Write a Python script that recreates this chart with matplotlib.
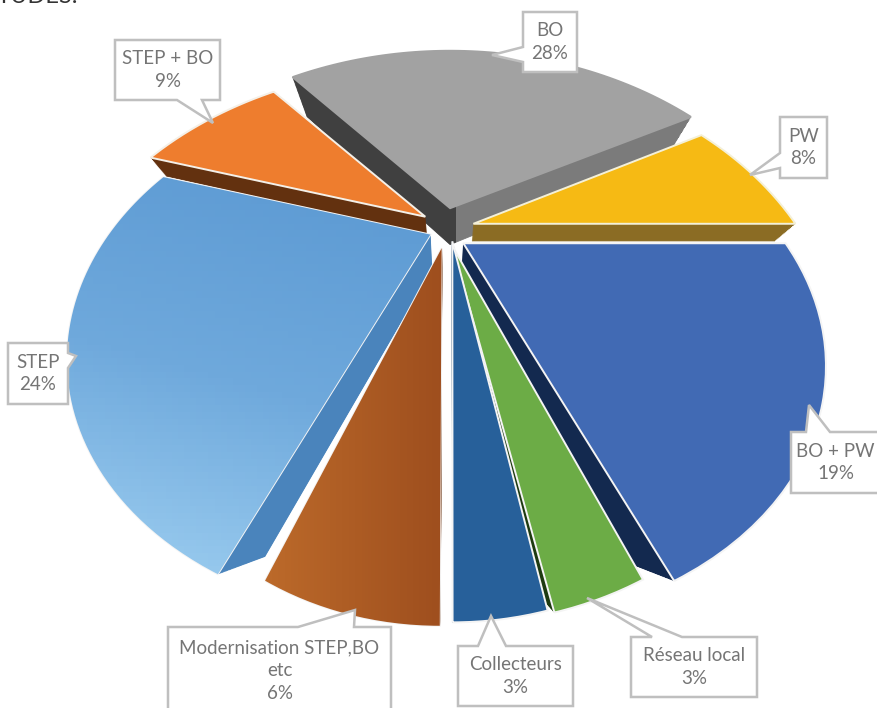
import numpy as np
import matplotlib
matplotlib.use("Agg")
import matplotlib.pyplot as plt
from matplotlib.colors import LinearSegmentedColormap
from matplotlib.patches import Polygon, Rectangle, Wedge
from matplotlib.path import Path
from matplotlib.transforms import Affine2D, Transform

# donnees
categories = ["BO", "PW", "BO + PW", "Réseau local", "Collecteurs",
              "Modernisation STEP,BO\netc", "STEP", "STEP + BO"]
parts = [28, 8, 19, 3, 3, 6, 24, 9]

# style, meme ordre que categories
couleurs = ["#a2a2a2", "#f6ba14", "#416ab4", "#6cac46", "#27609a", "#b0601f", "#6aa6dc", "#ee7d2e"]
murs = ["#7b7b7b", "#8b6c24", "#13294f", "#1d3a10", "#1c4570", "#6b3410", "#4a84bc", "#63310f"]
bords = ["#a2a2a2", "#f4f0d8", "#f4f4f4", "#f4f4f4", "#f4f4f4", "#f4f4f4", "#f4f4f4", "#f4f0e8"]
explode = [0.002, 0.075, 0.05, 0.03, 0.012, 0.045, 0.04, 0.09]
z_haut = [2.0, 1.0, 0.5, 0.3, 0.4, 0.4, 0.9, 1.0]
z_bas = [0.0, 0.0, -1.5, -1.0, -1.0, -1.0, -1.5, 0.0]
sx = [0.87, 0.89, 0.9, 0.86, 0.82, 0.78, 0.88, 0.93]
sy = [1.0, 1.0, 0.93, 0.93, 0.95, 0.905, 0.92, 1.0]
dx = [0, 0, 0, 0, 2, -6, -8, 0]
ordre = [0, 1, 7, 6, 2, 3, 4, 5]  # du fond vers l'avant

# boites des etiquettes : x0, y0, x1, y1, pointe, base du pointeur
boites = [
    (523, 12, 577, 72, (492, 55), ("left", 47, 62)),
    (780, 117, 827, 178, (750, 175), ("left", 153, 168)),
    (791, 432, 880, 493, (809, 405), ("top", 806, 830)),
    (631, 637, 757, 697, (587, 598), ("top", 652, 682)),
    (458, 646, 573, 706, (491, 616), ("top", 478, 506)),
    (168, 627, 391, 720, (355, 610), ("top", 298, 354)),
    (8, 343, 68, 404, (76, 356), ("right", 353, 368)),
    (115, 40, 220, 100, (213, 123), ("bottom", 177, 202)),
]


class Perspective(Transform):
    # disque unite du pie -> pixels, avec une hauteur z
    input_dims = 2
    output_dims = 2
    is_separable = False

    def __init__(self, z=0.0, kx=1.0, ky=1.0, decal=0.0):
        super().__init__()
        self.z = z
        self.kx = kx
        self.ky = ky
        self.decal = decal

    def transform_non_affine(self, values):
        values = np.asarray(values, dtype=float)
        u, v = values[:, 0], values[:, 1]
        w = 1 + 0.424 * v - 0.06 * self.z
        return np.column_stack([450 + self.decal + self.kx * 343 * u / w,
                                245 + self.ky * (-221 * v - 16 * self.z) / w])

    def transform_path_non_affine(self, path):
        fine = path.transformed(Affine2D().scale(1000)).to_polygons(closed_only=True)[0]
        return Path(self.transform_non_affine(fine / 1000))


def pose_murs(ax, i, couleur, zorder, clip=None):
    w = wedges[i]
    for z in np.arange(z_bas[i], z_haut[i], 0.06):
        couche = Wedge(w.center, w.r, w.theta1, w.theta2, fc=couleur, ec=couleur, lw=0.6)
        ax.add_patch(couche)
        couche.set_transform(Perspective(z, sx[i], sy[i], dx[i]) + ax.transData)
        couche.set_zorder(zorder)
        if clip is not None:
            clip.set_transform(ax.transData)
            couche.set_clip_path(clip)


fig = plt.figure(figsize=(8.77, 7.08), dpi=100)
ax = fig.add_axes([0, 0, 1, 1])
plt.rcParams['font.family'] = ['Lato', 'DejaVu Sans']

wedges, _ = ax.pie(parts, startangle=90 + 39.6, counterclock=False, explode=explode, colors=couleurs)
ax.set_aspect('auto')
ax.set_xlim(0, 877)
ax.set_ylim(708, 0)
ax.axis('off')

for rang, i in enumerate(ordre):
    w = wedges[i]
    base = 2 + rang * 2
    if i == 0:
        # BO : mur gauche sombre, mur droit plus clair
        pose_murs(ax, i, "#404040", base, Rectangle((0, 0), 456, 708))
        pose_murs(ax, i, murs[i], base, Rectangle((456, 0), 421, 708))
    else:
        pose_murs(ax, i, murs[i], base)
    w.set_transform(Perspective(z_haut[i], sx[i], sy[i], dx[i]) + ax.transData)
    w.set_edgecolor(bords[i])
    w.set_linewidth(1.4)
    w.set_zorder(base + 1)

# degrades STEP et Modernisation
deg_step = LinearSegmentedColormap.from_list("step", ["#5a98d2", "#6fa9dc", "#a3d3f3"])
yy, xx = np.mgrid[0:1:64j, 0:1:64j]
im = ax.imshow(yy - 0.25 * xx, cmap=deg_step, extent=(50, 440, 600, 170), aspect='auto', zorder=wedges[6].get_zorder() + 0.5)
im.set_clip_path(wedges[6])
deg_mod = LinearSegmentedColormap.from_list("mod", ["#c06e2c", "#9e4e1e"])
im2 = ax.imshow(xx, cmap=deg_mod, extent=(240, 445, 660, 240), aspect='auto', zorder=wedges[5].get_zorder() + 0.5)
im2.set_clip_path(wedges[5])
ax.set_xlim(0, 877)
ax.set_ylim(708, 0)

# etiquettes
for nom, p, (x0, y0, x1, y1, pointe, (cote, a, b)) in zip(categories, parts, boites):
    if cote == "top":
        pts = [(x0, y0), (a, y0), pointe, (b, y0), (x1, y0), (x1, y1), (x0, y1)]
    elif cote == "bottom":
        pts = [(x0, y0), (x1, y0), (x1, y1), (b, y1), pointe, (a, y1), (x0, y1)]
    elif cote == "left":
        pts = [(x0, y0), (x1, y0), (x1, y1), (x0, y1), (x0, b), pointe, (x0, a)]
    else:
        pts = [(x0, y0), (x1, y0), (x1, a), pointe, (x1, b), (x1, y1), (x0, y1)]
    ax.add_patch(Polygon(pts, closed=True, fc="white", ec="#bfbfbf", lw=1.8, zorder=40))
    y_txt = (y0 + y1) / 2 if y1 < 708 else 671
    ax.text((x0 + x1) / 2, y_txt, f"{nom}\n{p}%", ha="center", va="center", fontsize=13.5,
            color="#757575", linespacing=1.42, zorder=41)

ax.text(-3, 3, "TUDES.", fontsize=17, color="#333333", va="baseline", ha="left")

fig.savefig("out.png", dpi=100, facecolor="white")
